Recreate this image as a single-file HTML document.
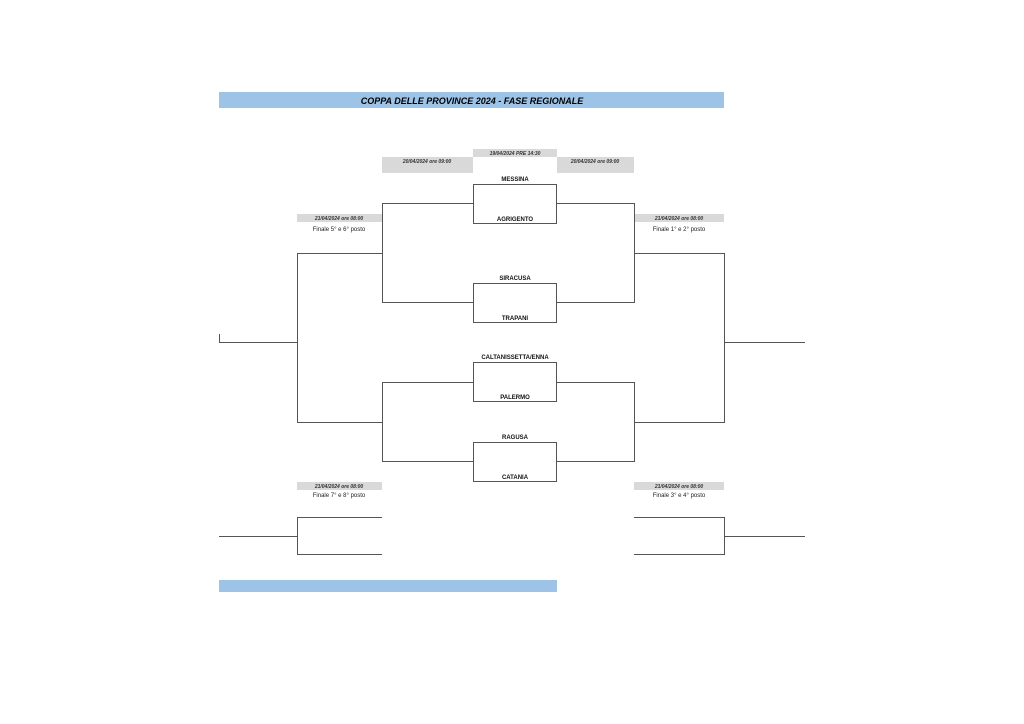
<!DOCTYPE html>
<html><head><meta charset="utf-8"><style>
html,body{margin:0;padding:0;background:#fff;width:1024px;height:724px;overflow:hidden}
svg{display:block}
text{font-family:"Liberation Sans",sans-serif}
</style></head><body>
<svg width="1024" height="724" viewBox="0 0 1024 724">
<rect x="219" y="92" width="505" height="16" fill="#9dc3e6"/>
<text x="472" y="104" text-anchor="middle" font-size="9" font-weight="bold" font-style="italic">COPPA DELLE PROVINCE 2024 - FASE REGIONALE</text>
<rect x="219" y="580" width="338" height="12" fill="#9dc3e6"/>
<g fill="#d9d9d9">
<rect x="473" y="149" width="84" height="8"/>
<rect x="382" y="157" width="91" height="16"/>
<rect x="557" y="157" width="77" height="16"/>
<rect x="297" y="214" width="85" height="8"/>
<rect x="634" y="214" width="90" height="8"/>
<rect x="297" y="482" width="85" height="8"/>
<rect x="634" y="482" width="90" height="8"/>
</g>
<g font-size="5" font-weight="bold" font-style="italic" text-anchor="middle" fill="#333">
<text x="515" y="155">19/04/2024 PRE 14:30</text>
<text x="427" y="163">20/04/2024 ore 09:00</text>
<text x="595" y="163">20/04/2024 ore 09:00</text>
<text x="339" y="220">21/04/2024 ore 08:00</text>
<text x="679" y="220">21/04/2024 ore 08:00</text>
<text x="339" y="488">21/04/2024 ore 08:00</text>
<text x="679" y="488">21/04/2024 ore 08:00</text>
</g>
<g font-size="6" text-anchor="middle" fill="#222">
<text x="339" y="231">Finale 5° e 6° posto</text>
<text x="679" y="231">Finale 1°  e 2° posto</text>
<text x="339" y="497">Finale 7° e 8° posto</text>
<text x="679" y="497">Finale 3°  e 4° posto</text>
</g>
<g font-size="6" font-weight="bold" text-anchor="middle" fill="#111">
<text x="515" y="181">MESSINA</text>
<text x="515" y="221">AGRIGENTO</text>
<text x="515" y="280">SIRACUSA</text>
<text x="515" y="320">TRAPANI</text>
<text x="515" y="359">CALTANISSETTA/ENNA</text>
<text x="515" y="399">PALERMO</text>
<text x="515" y="439">RAGUSA</text>
<text x="515" y="479">CATANIA</text>
</g>
<g fill="none" stroke="#555" stroke-width="1">
<rect x="473.5" y="184.5" width="83" height="39"/>
<rect x="473.5" y="283.5" width="83" height="39"/>
<rect x="473.5" y="362.5" width="83" height="39"/>
<rect x="473.5" y="442.5" width="83" height="39"/>
<polyline points="473,203.5 382.5,203.5 382.5,302.5 473,302.5"/>
<polyline points="557,203.5 634.5,203.5 634.5,302.5 557,302.5"/>
<polyline points="473,382.5 382.5,382.5 382.5,461.5 473,461.5"/>
<polyline points="557,382.5 634.5,382.5 634.5,461.5 557,461.5"/>
<polyline points="382,253.5 297.5,253.5 297.5,422.5 382,422.5"/>
<polyline points="634,253.5 724.5,253.5 724.5,422.5 634,422.5"/>
<polyline points="219.5,334 219.5,342.5 297,342.5"/>
<line x1="724" y1="342.5" x2="805" y2="342.5"/>
<polyline points="382,517.5 297.5,517.5 297.5,554.5 382,554.5"/>
<polyline points="634,517.5 724.5,517.5 724.5,554.5 634,554.5"/>
<line x1="219" y1="536.5" x2="297" y2="536.5"/>
<line x1="724" y1="536.5" x2="805" y2="536.5"/>
</g>
</svg>
</body></html>
